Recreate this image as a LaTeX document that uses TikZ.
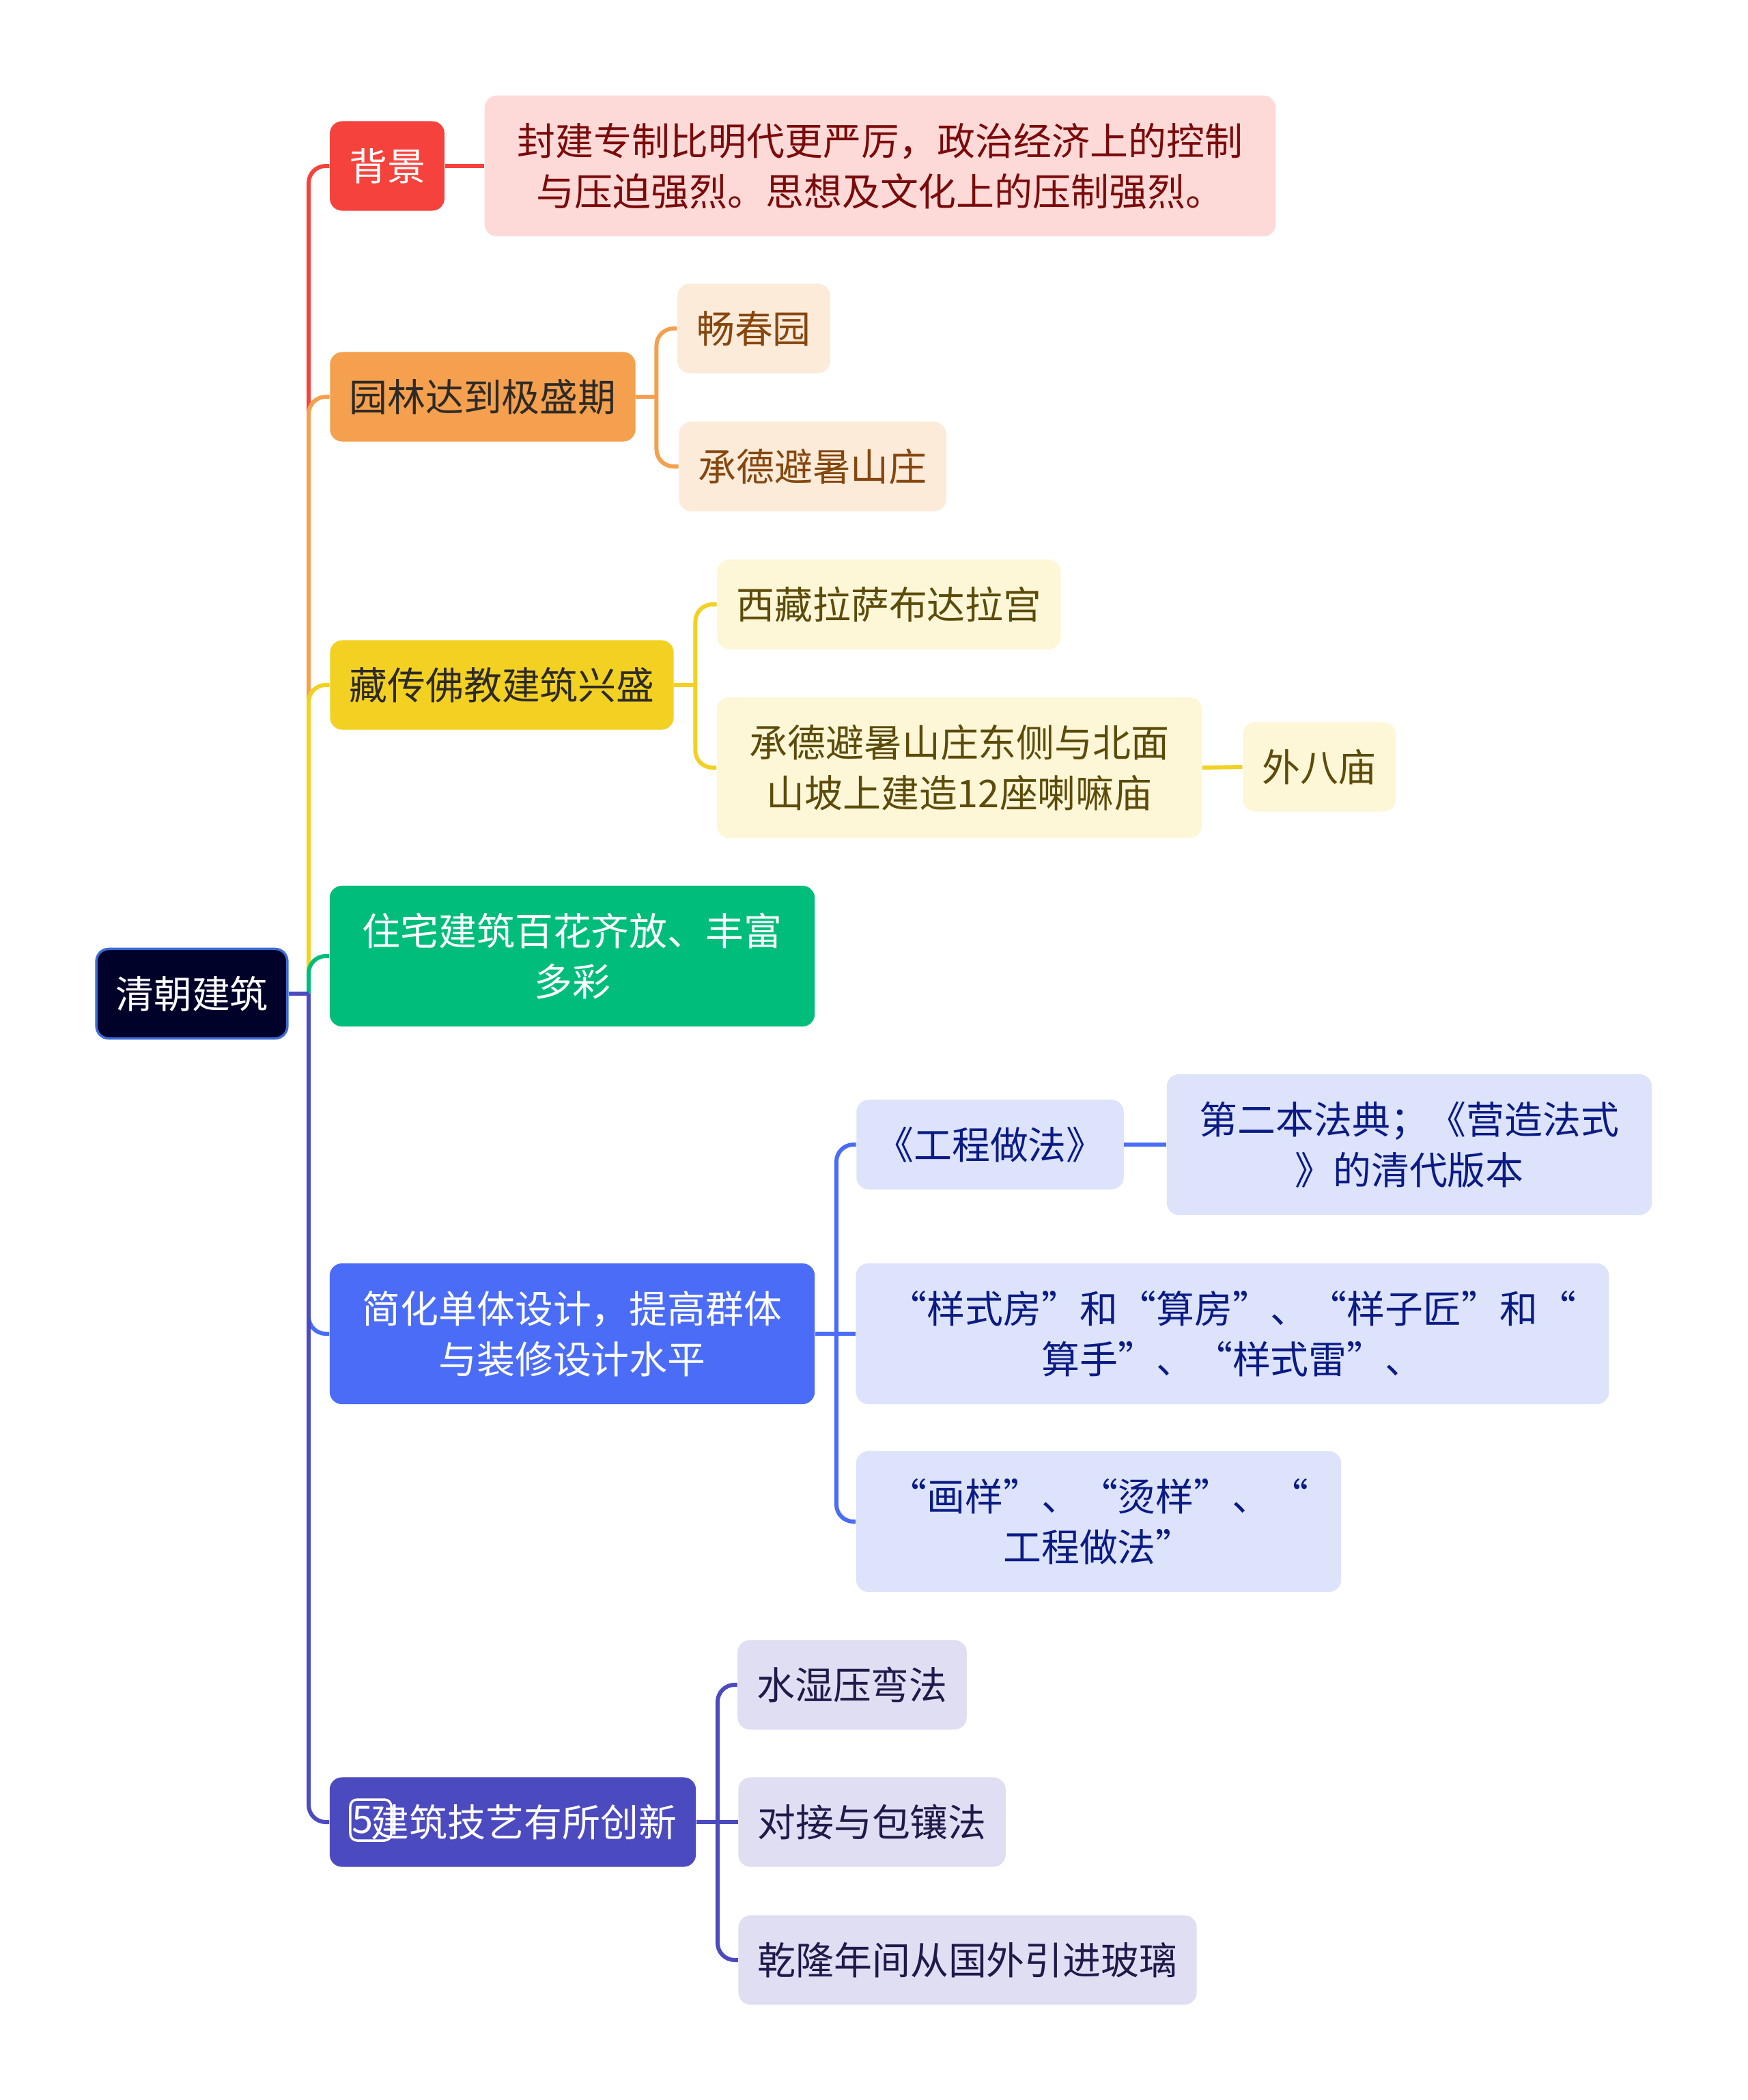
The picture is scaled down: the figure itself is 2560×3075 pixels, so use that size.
\documentclass[tikz,border=0pt]{standalone}
\usepackage{fontspec}
\setmainfont{Noto Sans CJK SC}
\definecolor{rootfill}{HTML}{000229}
\definecolor{rootline}{HTML}{3C6CD6}
\definecolor{redm}{HTML}{F5423C}
\definecolor{redl}{HTML}{FDDAD8}
\definecolor{redt}{HTML}{7B0A0A}
\definecolor{orgm}{HTML}{F4A04E}
\definecolor{orgl}{HTML}{FDEBDA}
\definecolor{orgt}{HTML}{86460E}
\definecolor{yelm}{HTML}{F2D123}
\definecolor{yell}{HTML}{FDF7D7}
\definecolor{yelt}{HTML}{5C4B0A}
\definecolor{grnm}{HTML}{00BD7B}
\definecolor{blum}{HTML}{4A6CF7}
\definecolor{blul}{HTML}{DCE3FA}
\definecolor{blut}{HTML}{0B1B85}
\definecolor{purm}{HTML}{4C4ABF}
\definecolor{purl}{HTML}{E0DEF3}
\definecolor{purt}{HTML}{1E1A4A}
\definecolor{darkt}{HTML}{2E2A25}

\begin{document}
\begin{tikzpicture}[x=0.01cm,y=-0.01cm,
  box/.style={rounded corners=0.18cm, inner xsep=0.28cm, inner ysep=0, minimum height=1.31cm, font=\fontsize{15.9}{21.1}\selectfont, align=center},
  wide/.style={box, minimum width=7.1cm, minimum height=2.06cm},
  link/.style={line width=1.7pt, rounded corners=0.25cm}]

\fill[white] (0,0) rectangle (2560,3075);
\useasboundingbox (0,0) rectangle (2560,3075);

\node [box, fill=rootfill, draw=rootline, line width=1pt, text=white] (root) at (281,1455) {清朝建筑};

\node [box, fill=redm, text=white] (b1) at (567,243) {背景};
\node [wide, minimum width=11.58cm, fill=redl, text=redt] (c11) at (1289,243) {封建专制比明代更严厉，政治经济上的控制\\与压迫强烈。思想及文化上的压制强烈。};

\node [box, fill=orgm, text=darkt] (b2) at (707,581) {园林达到极盛期};
\node [box, fill=orgl, text=orgt] (c21) at (1104,481) {畅春园};
\node [box, fill=orgl, text=orgt] (c22) at (1190,683) {承德避暑山庄};

\node [box, fill=yelm, text=darkt] (b3) at (735,1003) {藏传佛教建筑兴盛};
\node [box, fill=yell, text=yelt] (c31) at (1302,885) {西藏拉萨布达拉宫};
\node [wide, fill=yell, text=yelt] (c32) at (1405,1124) {承德避暑山庄东侧与北面\\山坡上建造12座喇嘛庙};
\node [box, fill=yell, text=yelt] (c33) at (1932,1123) {外八庙};

\node [wide, fill=grnm, text=white] (b4) at (838,1400) {住宅建筑百花齐放、丰富\\多彩};

\node [wide, fill=blum, text=white] (b5) at (838,1953) {简化单体设计，提高群体\\与装修设计水平};
\node [box, fill=blul, text=blut] (c51) at (1450,1676) {《工程做法》};
\node [wide, fill=blul, text=blut] (c52) at (2064,1676) {第二本法典；《营造法式\\》的清代版本};
\node [wide, minimum width=11.02cm, fill=blul, text=blut] (c53) at (1805,1953) {“样式房”和“算房”、“样子匠”和“\\算手”、“样式雷”、};
\node [wide, fill=blul, text=blut] (c54) at (1609,2228) {“画样”、“烫样”、“\\工程做法”};

\node [box, fill=purm, text=white] (b6) at (751,2668) {\hspace*{0.33cm}建筑技艺有所创新};
\node [draw=white, rounded corners=0.1cm, line width=1pt, text=white, inner xsep=0.03cm, inner ysep=0, text width=0.54cm, minimum height=0.6cm, font=\fontsize{15.9}{21.1}\selectfont, align=left] (five) at (543,2665) {5};
\node [box, fill=purl, text=purt] (c61) at (1248,2467) {水湿压弯法};
\node [box, fill=purl, text=purt] (c62) at (1277,2668) {对接与包镶法};
\node [box, fill=purl, text=purt] (c63) at (1417,2870) {乾隆年间从国外引进玻璃};

\coordinate (hub) at (452,1455);

\draw [link, redm] (hub) |- (b1.west);
\draw [link, redm] (b1.east) -- (c11.west);

\draw [link, orgm] (hub) |- (b2.west);
\draw [link, orgm] (b2.east) -- ++(30,0) coordinate (j2);
\draw [link, orgm] (j2) |- (c21.west);
\draw [link, orgm] (j2) |- (c22.west);

\draw [link, yelm] (hub) |- (b3.west);
\draw [link, yelm] (b3.east) -- ++(31,0) coordinate (j3);
\draw [link, yelm] (j3) |- (c31.west);
\draw [link, yelm] (j3) |- (c32.west);
\draw [link, yelm] (c32.east) -- (c33.west);

\draw [link, grnm] (hub) |- (b4.west);

\draw [link, blum] (hub) |- (b5.west);
\draw [link, blum] (b5.east) -- ++(31,0) coordinate (j5);
\draw [link, blum] (j5) |- (c51.west);
\draw [link, blum] (j5) -- (c53.west);
\draw [link, blum] (j5) |- (c54.west);
\draw [link, blum] (c51.east) -- (c52.west);

\draw [link, purm] (hub) |- (b6.west);
\draw [link, purm] (b6.east) -- ++(31,0) coordinate (j6);
\draw [link, purm] (j6) |- (c61.west);
\draw [link, purm] (j6) -- (c62.west);
\draw [link, purm] (j6) |- (c63.west);

\draw [link, purm] (root.east) -- (hub);
\end{tikzpicture}
\end{document}
